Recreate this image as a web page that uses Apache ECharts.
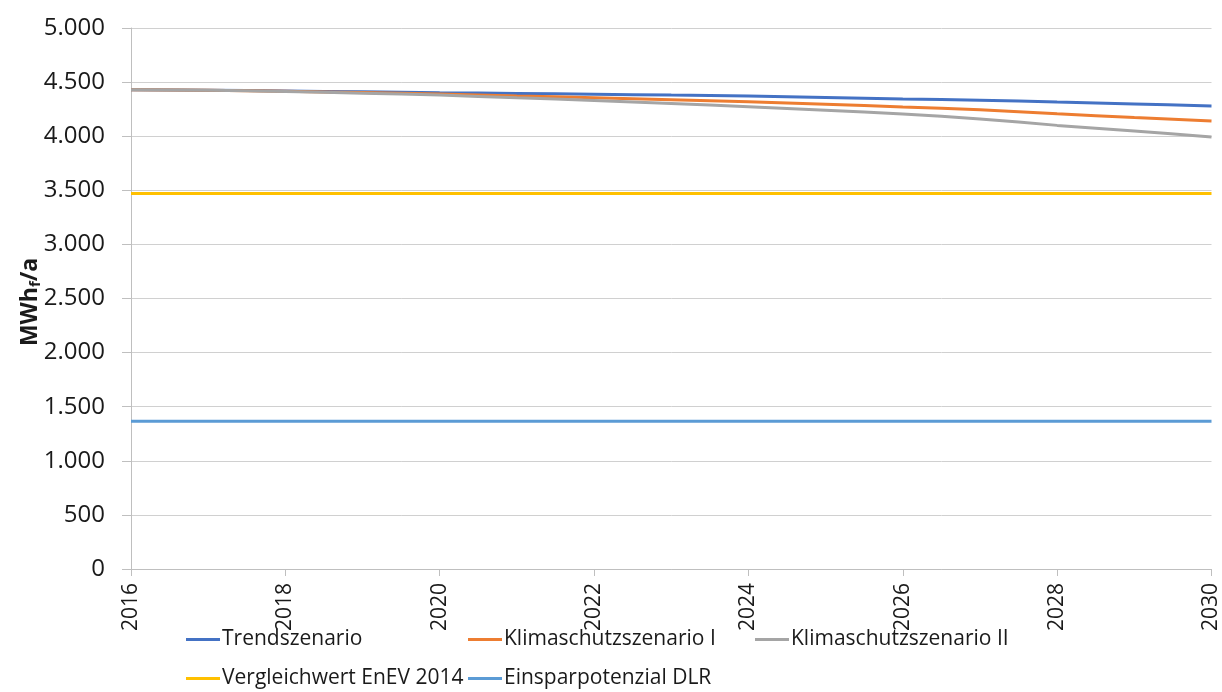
<!DOCTYPE html>
<html>
<head>
<meta charset="utf-8">
<script src="https://cdn.jsdelivr.net/npm/echarts@6/dist/echarts.min.js"></script>
<style>
html,body{margin:0;padding:0;background:#fff;}
#chart{width:1222px;height:692px;}
</style>
</head>
<body>
<div id="chart"></div>
<script>
var years = ['2016','2017','2018','2019','2020','2021','2022','2023','2024','2025','2026','2027','2028','2029','2030'];
var trendszenario = [4430,4425,4418,4410,4402,4395,4388,4380,4372,4358,4344,4333,4315,4298,4280];
var klimaschutzI = [4430,4425,4415,4403,4390,4372,4355,4337,4318,4295,4270,4245,4207,4172,4140];
var klimaschutzII = [4430,4425,4413,4398,4380,4355,4330,4302,4272,4240,4205,4160,4100,4048,3993];
var vergleichwert = [3470,3470,3470,3470,3470,3470,3470,3470,3470,3470,3470,3470,3470,3470,3470];
var einsparpotenzial = [1365,1365,1365,1365,1365,1365,1365,1365,1365,1365,1365,1365,1365,1365,1365];
var seriesNames = ['Trendszenario','Klimaschutzszenario I','Klimaschutzszenario II','Vergleichwert EnEV 2014','Einsparpotenzial DLR'];
var seriesData = [trendszenario, klimaschutzI, klimaschutzII, vergleichwert, einsparpotenzial];
var colors = ['#4472C4','#ED7D31','#A5A5A5','#FFC000','#5B9BD5'];
var yTitle = '{a|MWh}{b|f}{a|/a}';

var FONT = 'Open Sans';
var chart = echarts.init(document.getElementById('chart'), null, {renderer:'canvas'});

var legendPos = [[186,629],[468,629],[755,629],[186,668],[468,668]];
var legends = seriesNames.map(function(n,i){
  return {
    data:[n], left:legendPos[i][0], top:legendPos[i][1],
    icon:'rect', itemWidth:34, itemHeight:3, itemGap:0,
    textStyle:{fontFamily:FONT, fontSize:21, color:'#1a1a1a', padding:[0,0,0,-3]},
    padding:0
  };
});

var option = {
  animation:false,
  color:colors,
  textStyle:{fontFamily:FONT},
  grid:{left:131, right:9, top:28, bottom:123, containLabel:false},
  legend:legends,
  graphic:[{
    type:'text', x:30, y:302, rotation:Math.PI/2,
    style:{
      text:yTitle, align:'center', verticalAlign:'middle',
      rich:{
        a:{fontFamily:FONT, fontSize:23, fontWeight:'bold', fill:'#1a1a1a', color:'#1a1a1a', lineHeight:26},
        b:{fontFamily:FONT, fontSize:15, fontWeight:'bold', fill:'#1a1a1a', color:'#1a1a1a', lineHeight:26, verticalAlign:'bottom'}
      }
    }
  }],
  xAxis:{
    type:'category', data:years, boundaryGap:false,
    axisLine:{lineStyle:{color:'#BFBFBF', width:1}},
    axisTick:{show:true, interval:1, length:7, lineStyle:{color:'#BFBFBF'}},
    axisLabel:{interval:1, rotate:90, fontFamily:FONT, fontSize:21, color:'#1a1a1a', margin:14},
    splitLine:{show:false}
  },
  yAxis:{
    type:'value', min:0, max:5000, interval:500,
    axisLine:{show:true, lineStyle:{color:'#BFBFBF', width:1}},
    axisTick:{show:true, length:9, lineStyle:{color:'#BFBFBF'}},
    axisLabel:{fontFamily:FONT, fontSize:24, color:'#1a1a1a', margin:26,
      formatter:function(v){ return String(v).replace(/\B(?=(\d{3})+(?!\d))/g,'.'); }},
    splitLine:{lineStyle:{color:'#D0D0D0', width:1}}
  },
  series:seriesNames.map(function(n,i){
    return {
      name:n, type:'line', data:seriesData[i], showSymbol:false, symbol:'none',
      smooth:0.3, lineStyle:{width:3, color:colors[i]}, itemStyle:{color:colors[i]},
      z: 2+i
    };
  })
};
chart.setOption(option);
</script>
</body>
</html>
